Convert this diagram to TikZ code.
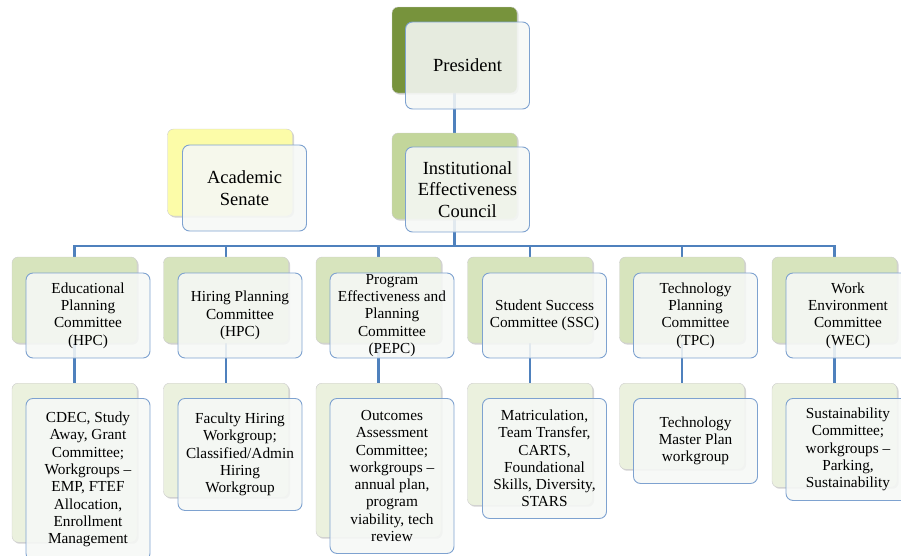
\documentclass[tikz,border=0pt]{standalone}
\usepackage{fontspec}
\setmainfont{Liberation Serif}
\usetikzlibrary{shadows,backgrounds}
\definecolor{linkblue}{RGB}{79,129,189}
\definecolor{edgeblue}{RGB}{126,162,208}
\definecolor{olive}{RGB}{119,147,60}
\definecolor{sage}{RGB}{195,214,155}
\definecolor{mint}{RGB}{215,228,189}
\definecolor{paleleaf}{RGB}{235,241,222}
\definecolor{lemon}{RGB}{252,252,168}
\definecolor{paper}{RGB}{246,248,246}
\tikzset{
  backbox/.style={draw=black!20, rounded corners=6pt, minimum width=125pt,
    drop shadow={shadow xshift=1.5pt, shadow yshift=-1.5pt, opacity=0.35}},
  frontbox/.style={draw=edgeblue, line width=0.9pt, rounded corners=7pt, fill=paper,
    fill opacity=0.88, text opacity=1, minimum width=124pt, align=center,
    inner xsep=2pt, inner ysep=1pt},
  bigtext/.style={font=\fontsize{18.5}{21.5}\selectfont},
  smalltext/.style={font=\fontsize{15.3}{17.3}\selectfont},
  link/.style={draw=linkblue, line width=2.6pt}
}
\begin{document}
\begin{tikzpicture}[x=1pt,y=-1pt]
\useasboundingbox (0,0) rectangle (901,555);

% President
\node[backbox, fill=olive, minimum height=86pt] (presb) at (454.5,50) {};
\node[frontbox, bigtext, minimum height=87pt] (pres) at (467.5,65.5) {President};

% Institutional Effectiveness Council
\node[backbox, fill=sage, minimum height=86pt] (iecb) at (454.5,176) {};
\node[frontbox, bigtext, minimum height=85pt] (iec) at (467.5,189.5) {Institutional\\Effectiveness\\Council};

% Academic Senate (no link)
\node[backbox, fill=lemon, minimum height=87pt] (senb) at (230,172.5) {};
\node[frontbox, bigtext, minimum height=86pt] (sen) at (244.5,188) {Academic\\Senate};

% Committees
\node[backbox, fill=mint, minimum height=86pt] (epcb) at (74.5,300) {};
\node[frontbox, smalltext, minimum height=85pt] (epc) at (88,315.5) {Educational\\Planning\\Committee\\(HPC)};

\node[backbox, fill=mint, minimum height=86pt] (hpcb) at (226,300) {};
\node[frontbox, smalltext, minimum height=85pt] (hpc) at (240,315.5) {Hiring Planning\\Committee\\(HPC)};

\node[backbox, fill=mint, minimum height=86pt] (pepcb) at (378.5,300) {};
\node[frontbox, smalltext, minimum height=85pt] (pepc) at (392,315.5) {Program\\Effectiveness and\\Planning\\Committee\\(PEPC)};

\node[backbox, fill=mint, minimum height=86pt] (sscb) at (530,300) {};
\node[frontbox, smalltext, minimum height=85pt] (ssc) at (544.5,315.5) {Student Success\\Committee (SSC)};

\node[backbox, fill=mint, minimum height=86pt] (tpcb) at (682,300) {};
\node[frontbox, smalltext, minimum height=85pt] (tpc) at (695.5,315.5) {Technology\\Planning\\Committee\\(TPC)};

\node[backbox, fill=mint, minimum height=86pt] (wecb) at (834.5,300) {};
\node[frontbox, smalltext, minimum height=85pt] (wec) at (848,315.5) {Work\\Environment\\Committee\\(WEC)};

% Workgroups
\node[backbox, fill=paleleaf, minimum height=159pt, anchor=north] (epcwb) at (74.5,383) {};
\node[frontbox, smalltext, minimum height=162pt, anchor=north] (epcw) at (88,398) {CDEC, Study\\Away, Grant\\Committee;\\Workgroups --\\EMP, FTEF\\Allocation,\\Enrollment\\Management};

\node[backbox, fill=paleleaf, minimum height=114pt, anchor=north] (hpcwb) at (226,383) {};
\node[frontbox, smalltext, minimum height=112pt, anchor=north] (hpcw) at (240,398) {Faculty Hiring\\Workgroup;\\Classified/Admin\\Hiring\\Workgroup};

\node[backbox, fill=paleleaf, minimum height=154pt, anchor=north] (pepcwb) at (378.5,383) {};
\node[frontbox, smalltext, minimum height=155pt, anchor=north] (pepcw) at (392,398) {Outcomes\\Assessment\\Committee;\\workgroups --\\annual plan,\\program\\viability, tech\\review};

\node[backbox, fill=paleleaf, minimum height=122pt, anchor=north] (sscwb) at (530,383) {};
\node[frontbox, smalltext, minimum height=120pt, anchor=north] (sscw) at (544.5,398) {Matriculation,\\Team Transfer,\\CARTS,\\Foundational\\Skills, Diversity,\\STARS};

\node[backbox, fill=paleleaf, minimum height=86pt, anchor=north] (tpcwb) at (682,383) {};
\node[frontbox, smalltext, minimum height=85pt, anchor=north] (tpcw) at (695.5,398) {Technology\\Master Plan\\workgroup};

\node[backbox, fill=paleleaf, minimum height=104pt, anchor=north] (wecwb) at (834.5,383) {};
\node[frontbox, smalltext, minimum height=102pt, anchor=north] (wecw) at (848,398) {Sustainability\\Committee;\\workgroups --\\Parking,\\Sustainability};

% Links (behind the boxes)
\coordinate (bus) at (454.5,246);
\begin{pgfonlayer}{background}
\draw[link] (presb) -- (iecb);
\draw[link] (iecb) -- (bus);
\draw[link] (bus) -| (epcb);
\draw[link] (bus) -| (hpcb);
\draw[link] (bus) -| (pepcb);
\draw[link] (bus) -| (sscb);
\draw[link] (bus) -| (tpcb);
\draw[link] (bus) -| (wecb);
\draw[link] (epcb) -- (epcwb);
\draw[link] (hpcb) -- (hpcwb);
\draw[link] (pepcb) -- (pepcwb);
\draw[link] (sscb) -- (sscwb);
\draw[link] (tpcb) -- (tpcwb);
\draw[link] (wecb) -- (wecwb);
\end{pgfonlayer}
\end{tikzpicture}
\end{document}
